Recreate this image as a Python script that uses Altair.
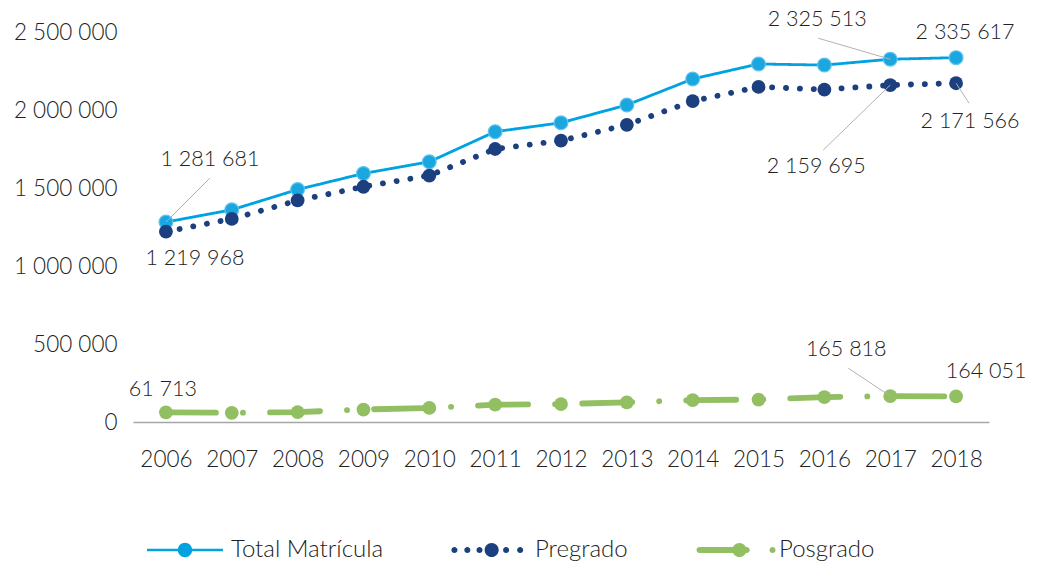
import altair as alt
import pandas as pd

# ---------------- data ----------------
years = list(range(2006, 2019))
total = [1281681, 1360000, 1490000, 1593000, 1668000, 1861000, 1918000,
         2032000, 2199000, 2295000, 2288000, 2325513, 2335617]
pregrado = [1219968, 1302000, 1420000, 1508000, 1580000, 1750000, 1803000,
            1905000, 2057000, 2148000, 2131000, 2159695, 2171566]
posgrado = [61713, 59000, 63000, 80000, 90000, 111000, 115000,
            126000, 140000, 144000, 160000, 165818, 164051]
series_names = ["Total Matrícula", "Pregrado", "Posgrado"]
y_ticks = [0, 500000, 1000000, 1500000, 2000000, 2500000]

rows = []
for name, vals in zip(series_names, [total, pregrado, posgrado]):
    for yr, v in zip(years, vals):
        rows.append({"series": name, "year": yr, "value": v})
df = pd.DataFrame(rows)

# labelled points: (series, year)
labelled = [
    ("Total Matrícula", 2006), ("Pregrado", 2006),
    ("Total Matrícula", 2017), ("Total Matrícula", 2018),
    ("Pregrado", 2017), ("Pregrado", 2018),
    ("Posgrado", 2006), ("Posgrado", 2017), ("Posgrado", 2018),
]

# ---------------- styles ----------------
FONT = "Lato"
FW = 300
TXT = "#222222"
FS_AXIS = 22.5
FS_ANN = 21.5
FS_LEG = 24
colors = ["#00A3E0", "#1C3F7F", "#92BF62"]
line_style = {
    "Total Matrícula": dict(strokeWidth=2.8, strokeDash=[1, 0]),
    "Pregrado": dict(strokeWidth=5.8, strokeDash=[0.1, 13.8]),
    "Posgrado": dict(strokeWidth=5.8, strokeDash=[50, 27, 0.1, 27]),
}
marker_size = 190
# text offset (dx, dy) and leader-line end offset (or None), per labelled point
label_offsets = [
    (44, -62, (44, -44)), (29, 27, None),
    (-73, -39, (-72, -21)), (9, -25, None),
    (-74, 82, (-67, 65)), (14, 39, (13, 20)),
    (-3, -22, None), (-44, -46, (-42, -28)), (30, -24, None),
]


def circ(cx, r):
    return (f"M{cx + r:.3f},0A{r:.3f},{r:.3f},0,1,1,{cx - r:.3f},0"
            f"A{r:.3f},{r:.3f},0,1,1,{cx + r:.3f},0Z")


def rect(x1, x2, h):
    return f"M{x1:.3f},{-h:.3f}H{x2:.3f}V{h:.3f}H{x1:.3f}Z"


sym_total = rect(-1, -0.18, 0.035) + rect(0.18, 1, 0.035) + circ(0, 0.19)
sym_pre = (circ(-0.91, 0.08) + circ(-0.57, 0.08) + circ(-0.25, 0.08)
           + circ(0.07, 0.185) + circ(0.45, 0.08) + circ(0.82, 0.08))
sym_pos = (circ(-0.88, 0.08) + rect(-0.88, 0.36, 0.08) + circ(0.36, 0.08)
           + circ(0.17, 0.185) + circ(1.04, 0.08))
symbols = [sym_total, sym_pre, sym_pos]

x_enc = alt.X("year:Q", scale=alt.Scale(domain=[2005.5, 2018.5]),
              axis=alt.Axis(values=years, format="d", title=None,
                            labelPadding=26, domainColor="#a6a6a6",
                            domainWidth=1.5, ticks=False, grid=False))
y_enc = alt.Y("value:Q", scale=alt.Scale(domain=[0, 2500000]),
              axis=alt.Axis(values=y_ticks, format=",d", title=None,
                            labelPadding=16, domain=False, ticks=False,
                            grid=False))

base = alt.Chart(df).encode(x=x_enc, y=y_enc)

layers = []
for name, col in zip(series_names, colors):
    sub = base.transform_filter(alt.datum.series == name)
    layers.append(sub.mark_line(color=col, strokeCap="round",
                                strokeJoin="round", **line_style[name]))
    if name == "Total Matrícula":
        layers.append(sub.mark_circle(size=marker_size, color="#1AA7E0",
                                      opacity=1, stroke="#62C2EA",
                                      strokeWidth=1.2))
    else:
        layers.append(sub.mark_circle(size=marker_size, color=col, opacity=1))

for (name, yr), (dx, dy, lead) in zip(labelled, label_offsets):
    sub = base.transform_filter(
        (alt.datum.series == name) & (alt.datum.year == yr))
    if lead is not None:
        layers.append(sub.mark_rule(color="#b3b3b3", strokeWidth=1,
                                    x2Offset=lead[0], y2Offset=lead[1])
                      .encode(x2="year:Q", y2="value:Q"))
    layers.append(sub.mark_text(dx=dx, dy=dy, font=FONT, fontSize=FS_ANN,
                                fontWeight=FW, color=TXT, align="center",
                                baseline="middle")
                  .encode(text=alt.Text("value:Q", format=",d")))

legend = alt.Legend(title=None, orient="none", legendX=14, legendY=480,
                    direction="horizontal", columns=3, padding=0,
                    symbolSize=5776, symbolOpacity=1, symbolStrokeWidth=0,
                    labelFont=FONT, labelFontSize=FS_LEG, labelFontWeight=FW,
                    labelColor=TXT, labelOffset=8, columnPadding=67,
                    labelLimit=400)
legend_layer = base.mark_point(filled=True, opacity=0).encode(
    color=alt.Color("series:N", scale=alt.Scale(domain=series_names,
                                                 range=colors),
                    legend=legend),
    shape=alt.Shape("series:N", scale=alt.Scale(domain=series_names,
                                                 range=symbols),
                    legend=legend),
)
layers.append(legend_layer)

chart = alt.layer(*layers).properties(
    width=856, height=390,
    autosize=alt.AutoSizeParams(type="none"),
    padding={"left": 133, "top": 32, "right": 48, "bottom": 139},
).configure(
    locale={"number": {"decimal": ",", "thousands": " ", "grouping": [3],
                       "currency": ["$", ""]}}
).configure_view(stroke=None).configure_axis(
    labelFont=FONT, labelFontSize=FS_AXIS, labelFontWeight=FW, labelColor=TXT
)

chart.save("out.html", embed_options={"renderer": "svg", "actions": False})
